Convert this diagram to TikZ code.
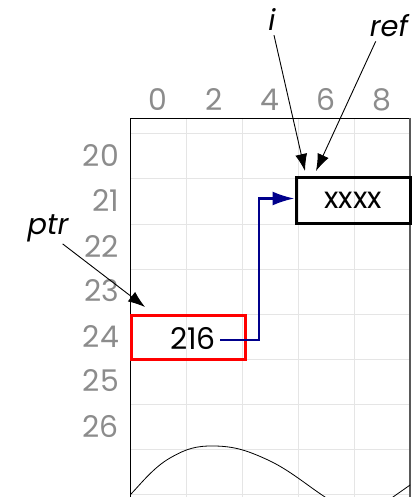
\documentclass[tikz,border=0pt]{standalone}
\usepackage{fontspec}
\setmainfont{Poppins}
\usetikzlibrary{arrows.meta, positioning}

\begin{document}
\begin{tikzpicture}[x=1bp, y=-1bp,
    every node/.style={font=\fontsize{30}{34}\selectfont, inner sep=0pt},
    axis label/.style={text=black!45},
    cell box/.style={draw, line width=3bp, minimum width=114bp, minimum height=44bp},
    name label/.style={font=\fontsize{29}{34}\selectfont\itshape},
    pointer/.style={-{Latex[length=17bp,width=12bp]}, line width=0.9bp},
    link/.style={-{Latex[length=22bp,width=14bp]}, draw=blue!55!black, line width=2.4bp},
    grid line/.style={draw=black!10, line width=1bp}
]
\useasboundingbox (0,0) rectangle (419,497);

% Grid
\foreach \gx in {186,242,298,354}
    \draw[grid line] (\gx,118) -- (\gx,497);
\foreach \gy in {134,179,...,494}
    \draw[grid line] (130,\gy) -- (410,\gy);
\draw[line width=0.8bp] (130,497) -- (130,118) -- (410,118);
\draw[black!65, line width=1.5bp] (410,118) -- (410,497);

% Axis labels
\foreach \col [count=\k from 0] in {0,2,4,6,8}
    \node[axis label] (col\col) at (158+56*\k,100) {\col};
\foreach \row [count=\k from 0] in {20,...,26}
    \node[axis label, anchor=east] (row\row) at (119,156+45*\k) {\row};

% Memory cells
\node[cell box, draw=red] (val) at (188,337) {};
\node[anchor=east] (num) at (216,338) {216};
\node[cell box, minimum height=45bp] (xbox) at (353,200.5) {xxxx};

% Pointer from value to target
\draw[link] (num.east) ++(4,2) -- ++(39,0) |- ([yshift=2bp]xbox.west);

% Names
\node[name label] (ptr) at (48,228) {ptr};
\node[name label] (i) at (272,20) {i};
\node[name label] (ref) at (389,26) {ref};
\coordinate (ptr tip) at (145,307);
\coordinate (i tip) at (305,171);
\coordinate (ref tip) at (316,171);
\draw[pointer] (ptr.south east) ++(-6,2) -- (ptr tip);
\draw[pointer] (i.south) ++(2,4) -- (i tip);
\draw[pointer] (ref.south west) ++(6,4) -- (ref tip);

% Curve
\begin{scope}
    \clip (130,118) rectangle (410,497);
    \draw[line width=0.8bp] plot[smooth, tension=0.7] coordinates
        {(118,512) (131,494) (170,458) (215,446) (268,460) (325,497) (360,520) (393,497) (420,478)};
\end{scope}
\end{tikzpicture}
\end{document}
